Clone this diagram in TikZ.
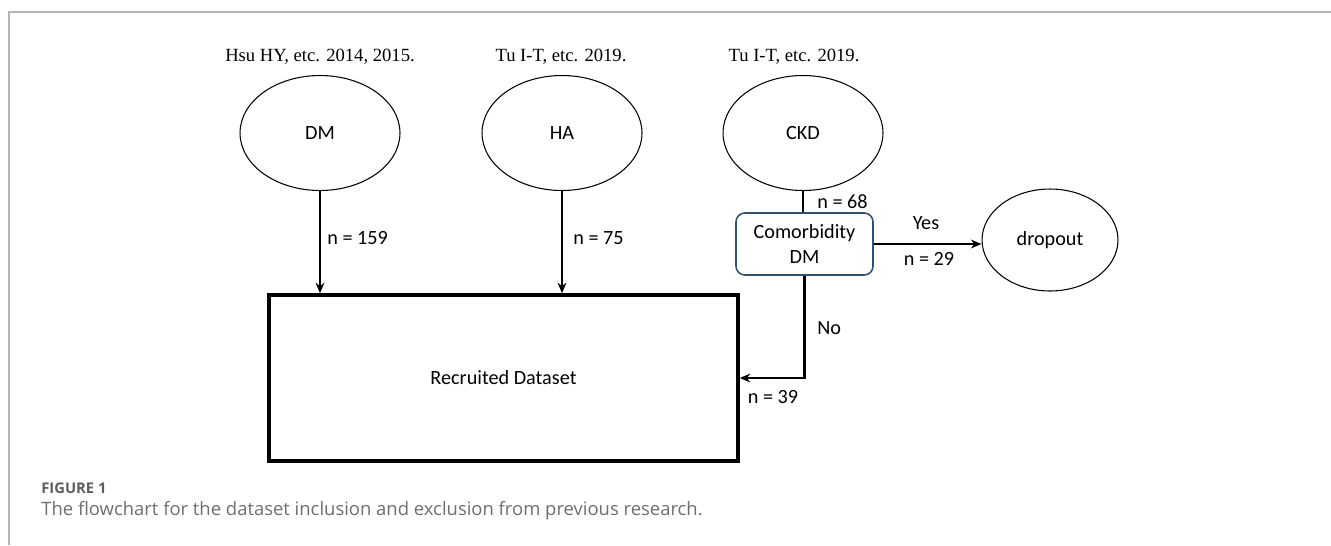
\documentclass[tikz,border=0pt]{standalone}
\usepackage{fontspec}
\setmainfont{Carlito}
\newfontfamily\reffont{Liberation Serif}
\newfontfamily\capfont{Open Sans}
\usetikzlibrary{arrows.meta,shapes.geometric}

\definecolor{framegray}{RGB}{180,180,180}
\definecolor{capgray}{RGB}{110,110,110}
\definecolor{boxblue}{RGB}{50,80,112}

\begin{document}
\begin{tikzpicture}[x=0.02cm,y=-0.02cm,
	src/.style={ellipse,draw,line width=0.6pt,inner sep=0pt,minimum width=3.2cm,minimum height=2.3cm,font=\fontsize{11.5}{14}\selectfont},
	ref/.style={font=\reffont\fontsize{10.6}{12}\selectfont},
	lbl/.style={font=\fontsize{11.5}{14}\selectfont,inner sep=0pt},
	arr/.style={line width=1.4pt,-{Stealth[length=6pt,width=5pt]}},
	plain/.style={line width=1.4pt}]
	\useasboundingbox (0,0) rectangle (1331,545);
	% frame of the figure
	\draw[framegray,line width=0.6pt] (1331,12) -- (9,12) -- (9,545);
	% sources
	\node[src] (dm) at (320,133) {DM};
	\node[src] (ha) at (562,133) {HA};
	\node[src] (ckd) at (803,133) {CKD};
	\node[ref] (dmref) at (320,57) {Hsu HY, etc. 2014, 2015.};
	\node[ref] (haref) at (561,57) {Tu I-T, etc. 2019.};
	\node[ref] (ckdref) at (794,57) {Tu I-T, etc. 2019.};
	% target and exclusion
	\node[draw,line width=2pt,minimum width=9.38cm,minimum height=3.32cm,font=\fontsize{11.5}{14}\selectfont] (rec) at (503.5,378) {Recruited Dataset};
	\node[draw=boxblue,line width=0.9pt,rounded corners=5pt,minimum width=2.74cm,minimum height=1.24cm,align=center,font=\fontsize{11.5}{14.7}\selectfont] (como) at (804.5,244) {Comorbidity\\DM};
	\node[src,minimum width=2.72cm,minimum height=2.04cm] (drop) at (1050,240) {dropout};
	% connectors
	\draw[arr] (dm) -- (dm |- rec.north);
	\draw[arr] (ha) -- (ha |- rec.north);
	\draw[plain] (ckd) -- (ckd |- como.north);
	\draw[arr] (como.east) -- (como.east -| drop.west);
	\draw[arr] (como.south) |- (rec.east);
	% counts
	\node[lbl,anchor=west] (n159) at (327,238) {n = 159};
	\node[lbl,anchor=west] (n75) at (573,238) {n = 75};
	\node[lbl,anchor=west] (n68) at (817,202) {n = 68};
	\node[lbl] (yes) at (926,223) {Yes};
	\node[lbl] (n29) at (929,259) {n = 29};
	\node[lbl,anchor=west] (no) at (817,328) {No};
	\node[lbl] (n39) at (773,397) {n = 39};
	% caption
	\node[anchor=west,inner sep=0pt,text=capgray!85!black,font=\capfont\bfseries\fontsize{8.4}{9}\selectfont] (fig) at (41,488) {FIGURE 1};
	\node[anchor=west,inner sep=0pt,text=capgray,font=\capfont\fontsize{10.5}{12}\selectfont] (cap) at (41,511) {The flowchart for the dataset inclusion and exclusion from previous research.};
\end{tikzpicture}
\end{document}
